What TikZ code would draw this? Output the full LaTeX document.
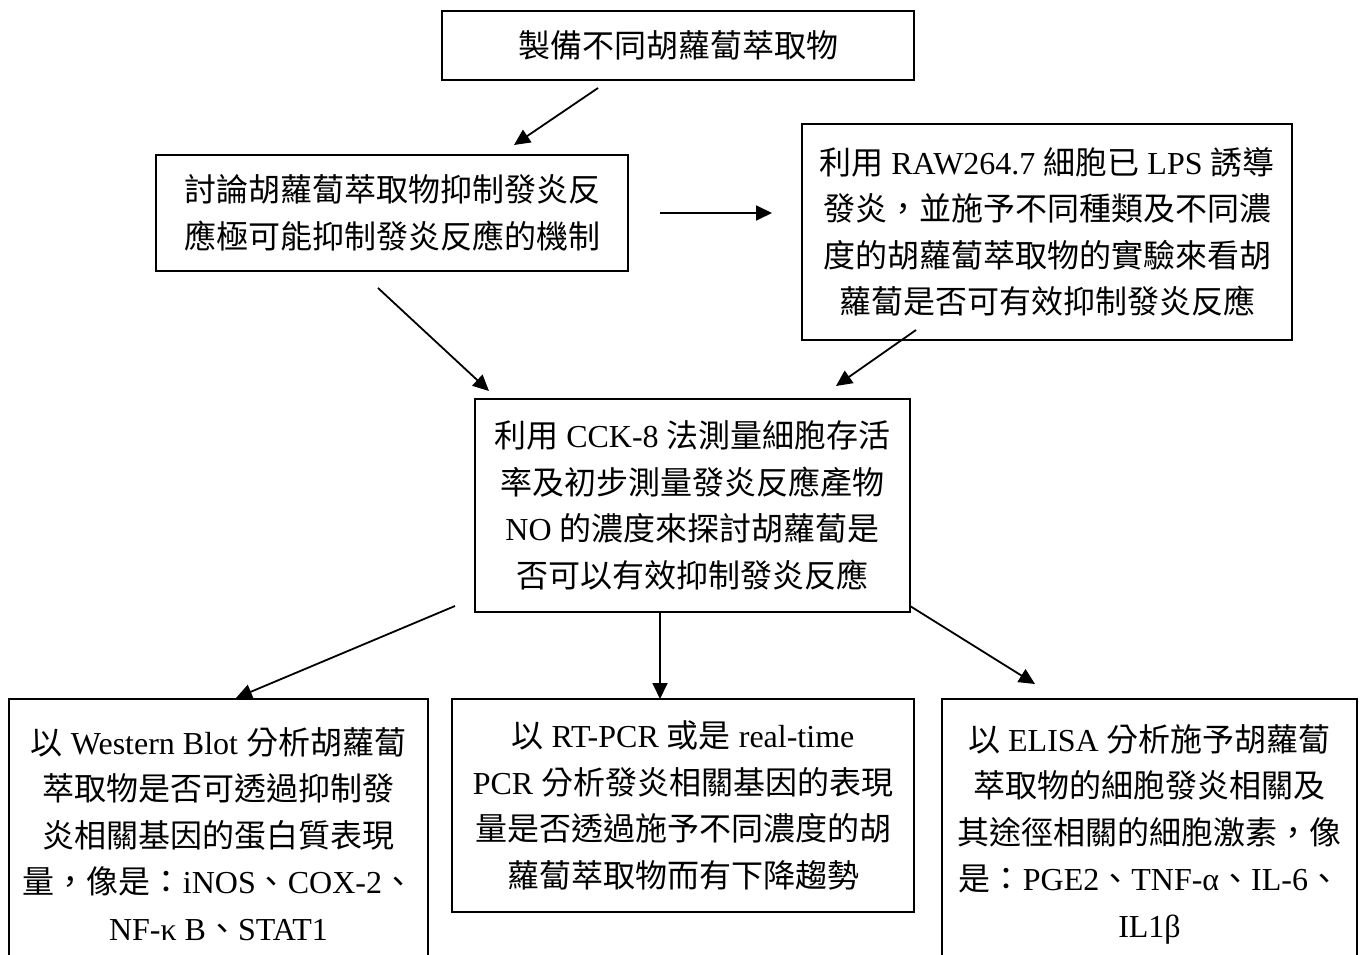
\documentclass[tikz,border=0pt]{standalone}
\usepackage{fontspec}
\setmainfont{Liberation Serif}
\newfontfamily\cjkfont{Noto Sans CJK TC}
\newcommand\zh[1]{{\cjkfont #1}}
\usetikzlibrary{arrows.meta}
\begin{document}
\begin{tikzpicture}[x=1pt,y=-1pt,
  box/.style={draw, line width=1.6pt, rectangle, inner sep=0pt, align=center,
    font=\fontsize{32}{46.5}\selectfont},
  arr/.style={line width=1.8pt, -{Triangle[length=16pt,width=15pt]}}]
\useasboundingbox[fill=white] (0,0) rectangle (1363,955);

\node[box, minimum width=472pt, minimum height=69pt] (b1) at (678,45.5)
  {\zh{製備不同胡蘿蔔萃取物}};
\node[box, minimum width=472pt, minimum height=116pt] (b2) at (392,213)
  {\zh{討論胡蘿蔔萃取物抑制發炎反}\\\zh{應極可能抑制發炎反應的機制}};
\node[box, minimum width=490pt, minimum height=216pt] (b3) at (1047,232)
  {\zh{利用} RAW264.7 \zh{細胞已} LPS \zh{誘導}\\
   \zh{發炎，並施予不同種類及不同濃}\\
   \zh{度的胡蘿蔔萃取物的實驗來看胡}\\
   \zh{蘿蔔是否可有效抑制發炎反應}};
\node[box, minimum width=435pt, minimum height=213pt] (b4) at (692.5,505.5)
  {\zh{利用} CCK-8 \zh{法測量細胞存活}\\
   \zh{率及初步測量發炎反應產物}\\
   NO \zh{的濃度來探討胡蘿蔔是}\\
   \zh{否可以有效抑制發炎反應}};
\node[box, minimum width=419pt, minimum height=270pt] (b5) at (218.5,834)
  {\zh{以} Western Blot \zh{分析胡蘿蔔}\\
   \zh{萃取物是否可透過抑制發}\\
   \zh{炎相關基因的蛋白質表現}\\
   \zh{量，像是：}iNOS\zh{、}COX-2\zh{、}\\
   NF-κ B\zh{、}STAT1};
\node[box, minimum width=462pt, minimum height=213pt] (b6) at (683,805.5)
  {\zh{以} RT-PCR \zh{或是} real-time\\
   PCR \zh{分析發炎相關基因的表現}\\
   \zh{量是否透過施予不同濃度的胡}\\
   \zh{蘿蔔萃取物而有下降趨勢}};
\node[box, minimum width=415pt, minimum height=270pt] (b7) at (1149.5,834)
  {\zh{以} ELISA \zh{分析施予胡蘿蔔}\\
   \zh{萃取物的細胞發炎相關及}\\
   \zh{其途徑相關的細胞激素，像}\\
   \zh{是：}PGE2\zh{、}TNF-α\zh{、}IL-6\zh{、}\\
   IL1β};

\coordinate (a1s) at (598,88);   \coordinate (a1e) at (514,145);
\coordinate (a2s) at (660,213);  \coordinate (a2e) at (772,213);
\coordinate (a3s) at (378,288);  \coordinate (a3e) at (489,391);
\coordinate (a4s) at (916,330);  \coordinate (a4e) at (836,386);
\coordinate (a5s) at (455,606);  \coordinate (a5e) at (236,698);
\coordinate (a6s) at (660,612);  \coordinate (a6e) at (660,699);
\coordinate (a7s) at (910,606);  \coordinate (a7e) at (1035,684);

\draw[arr] (a1s) -- (a1e);
\draw[arr] (a2s) -- (a2e);
\draw[arr] (a3s) -- (a3e);
\draw[arr] (a4s) -- (a4e);
\draw[arr] (a5s) -- (a5e);
\draw[arr] (a6s) -- (a6e);
\draw[arr] (a7s) -- (a7e);
\end{tikzpicture}
\end{document}
